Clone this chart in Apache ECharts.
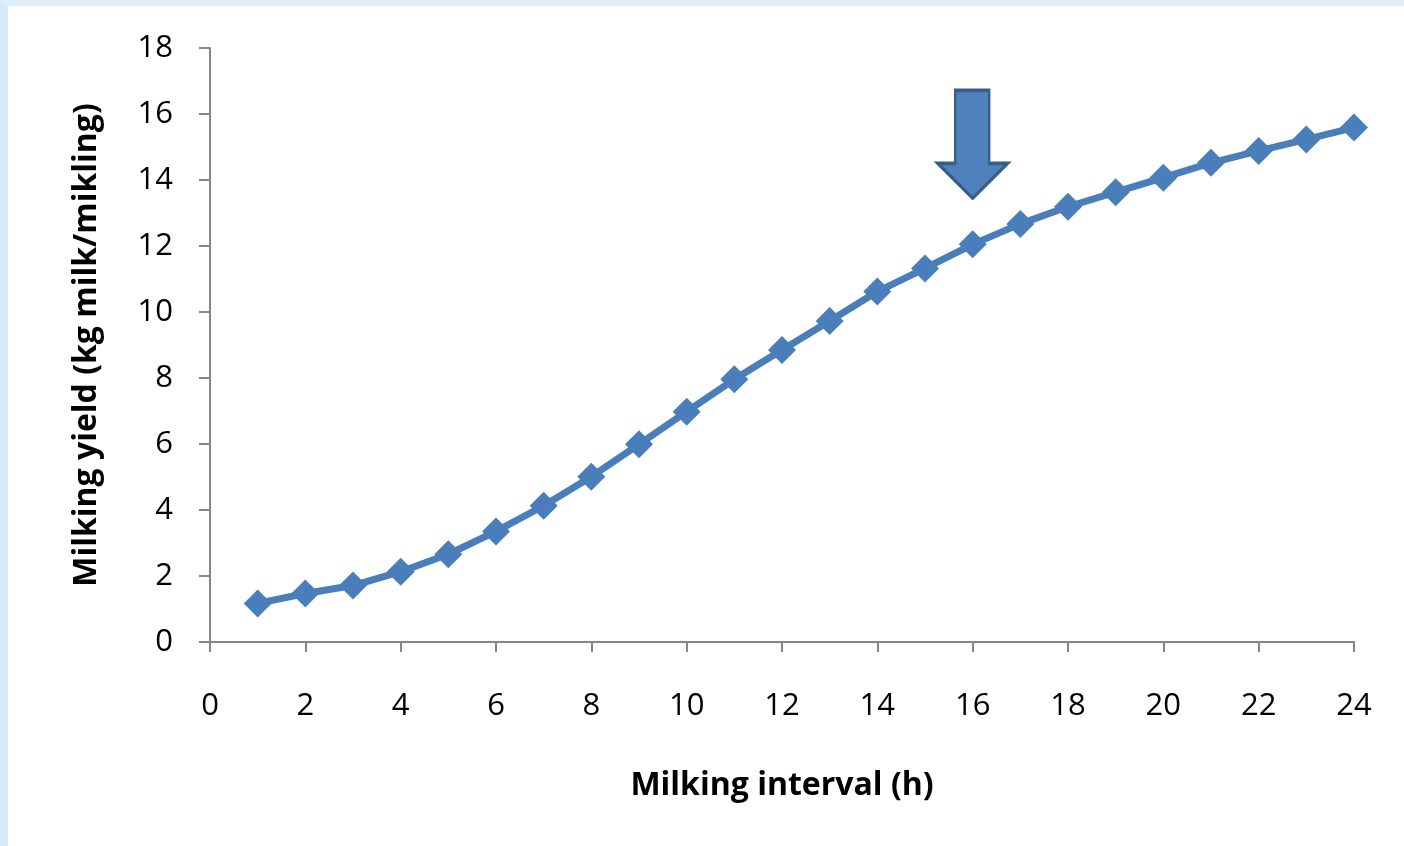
<!DOCTYPE html>
<html>
<head>
<meta charset="utf-8">
<script src="https://cdn.jsdelivr.net/npm/echarts@6/dist/echarts.min.js"></script>
<style>
  html, body { margin: 0; padding: 0; background: #ffffff; }
  #frame { position: absolute; left: 0; top: 0; width: 1404px; height: 846px;
           box-sizing: border-box; border-left: 8px solid #d6e9f8;
           border-top: 6px solid #e0eefa; }
  #chart { position: absolute; left: 0; top: 0; width: 1404px; height: 846px; }
</style>
</head>
<body>
<div id="frame"></div>
<div id="chart"></div>
<script>
// Data
const hours = [1, 2, 3, 4, 5, 6, 7, 8, 9, 10, 11, 12, 13, 14, 15, 16, 17, 18, 19, 20, 21, 22, 23, 24];
const yieldKg = [1.17, 1.47, 1.71, 2.13, 2.66, 3.35, 4.13, 5.01, 5.99, 6.98, 7.96, 8.85, 9.73, 10.62, 11.32, 12.05, 12.67, 13.19, 13.63, 14.07, 14.52, 14.88, 15.23, 15.59];
const arrowAt = [16, 15.08];
const xTitle = 'Milking interval (h)';
const yTitle = 'Milking yield (kg milk/mikling)';

const points = hours.map((h, i) => [h, yieldKg[i]]);
const font = '"Open Sans", "Liberation Sans", sans-serif';
const axisGray = '#868686';

const chart = echarts.init(document.getElementById('chart'), null, { renderer: 'canvas' });
chart.setOption({
  backgroundColor: 'transparent',
  animation: false,
  grid: { left: 210, right: 50, top: 48, bottom: 204, containLabel: false },
  xAxis: {
    type: 'value', min: 0, max: 24, interval: 2,
    name: xTitle, nameLocation: 'middle', nameGap: 128,
    nameTextStyle: { fontFamily: font, fontWeight: 'bold', fontSize: 32, color: '#000' },
    axisLine: { show: true, onZero: false, lineStyle: { color: axisGray, width: 2 } },
    axisTick: { show: true, inside: false, length: 10, lineStyle: { color: axisGray, width: 2 } },
    axisLabel: { fontFamily: font, fontSize: 31, color: '#000', margin: 49 },
    splitLine: { show: false }
  },
  yAxis: {
    type: 'value', min: 0, max: 18, interval: 2,
    name: yTitle, nameLocation: 'middle', nameGap: 107, nameRotate: 90,
    nameTextStyle: { fontFamily: font, fontWeight: 'bold', fontSize: 32, color: '#000' },
    axisLine: { show: true, lineStyle: { color: axisGray, width: 2 } },
    axisTick: { show: true, inside: false, length: 11, lineStyle: { color: axisGray, width: 2 } },
    axisLabel: { fontFamily: font, fontSize: 31, color: '#000', margin: 37 },
    splitLine: { show: false }
  },
  series: [{
    type: 'line',
    data: points,
    symbol: 'diamond',
    symbolSize: 28,
    showAllSymbol: true,
    lineStyle: { color: '#4a7ebb', width: 7 },
    itemStyle: { color: '#4a7ebb' },
    markPoint: {
      silent: true,
      symbol: 'path://M18,0L53,0L53,75L72,75L36,111L0,75L18,75Z',
      symbolSize: [70, 108],
      symbolKeepAspect: false,
      label: { show: false },
      itemStyle: { color: '#4f81bd', borderColor: '#385d8a', borderWidth: 3 },
      data: [{ coord: arrowAt }]
    }
  }]
});
</script>
</body>
</html>
